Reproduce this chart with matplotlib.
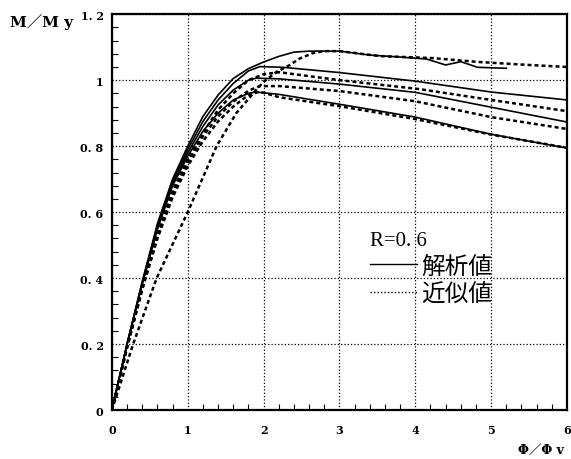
import numpy as np
import matplotlib
matplotlib.use('Agg')
import matplotlib.pyplot as plt
from matplotlib.ticker import MultipleLocator
from matplotlib.lines import Line2D

# analytical curves (solid)
s1_x = [0, 0.2, 0.4, 0.6, 0.8, 1.0, 1.2, 1.4, 1.6, 1.8, 2.0, 2.2, 2.4, 2.6, 3.0, 3.4, 3.8, 4.15, 4.4, 4.6, 4.82, 5.2]
s1_y = [0, 0.2, 0.39, 0.565, 0.70, 0.80, 0.89, 0.955, 1.005, 1.035, 1.055, 1.072, 1.085, 1.088, 1.088, 1.076, 1.07, 1.064, 1.046, 1.056, 1.039, 1.036]
s2_x = [0, 0.2, 0.4, 0.6, 0.8, 1.0, 1.2, 1.4, 1.6, 1.8, 1.95, 2.25, 3.0, 4.0, 5.0, 6.0]
s2_y = [0, 0.2, 0.387, 0.557, 0.692, 0.79, 0.875, 0.94, 0.99, 1.028, 1.041, 1.039, 1.023, 0.997, 0.964, 0.94]
s3_x = [0, 0.2, 0.4, 0.6, 0.8, 1.0, 1.2, 1.4, 1.6, 1.8, 1.9, 2.2, 3.0, 4.0, 5.0, 6.0]
s3_y = [0, 0.2, 0.384, 0.552, 0.686, 0.78, 0.86, 0.925, 0.97, 1.0, 1.006, 1.004, 0.988, 0.963, 0.918, 0.873]
s4_x = [0, 0.2, 0.4, 0.6, 0.8, 1.0, 1.2, 1.4, 1.6, 1.8, 1.9, 2.2, 3.0, 4.0, 5.0, 6.0]
s4_y = [0, 0.2, 0.382, 0.548, 0.68, 0.77, 0.845, 0.9, 0.94, 0.96, 0.964, 0.957, 0.927, 0.888, 0.836, 0.794]

# approximate curves (dashed)
d1_x = [0, 0.28, 0.59, 1.0, 1.38, 1.64, 1.9, 2.0, 2.17, 2.34, 2.47, 2.65, 2.8, 3.0, 3.53, 4.22, 4.84, 5.5, 6.0]
d1_y = [0, 0.2, 0.4, 0.6, 0.8, 0.9, 0.97, 0.995, 1.025, 1.045, 1.065, 1.082, 1.088, 1.088, 1.073, 1.067, 1.055, 1.046, 1.04]
d2_x = [0, 0.2, 0.4, 0.6, 0.8, 1.0, 1.2, 1.4, 1.6, 1.8, 2.0, 2.21, 3.0, 4.05, 5.0, 6.0]
d2_y = [0, 0.19, 0.37, 0.53, 0.665, 0.76, 0.84, 0.91, 0.96, 1.0, 1.018, 1.024, 1.0, 0.973, 0.94, 0.906]
d3_x = [0, 0.2, 0.4, 0.6, 0.8, 1.0, 1.2, 1.4, 1.6, 1.8, 1.95, 2.21, 3.0, 4.0, 5.0, 6.0]
d3_y = [0, 0.19, 0.368, 0.525, 0.655, 0.75, 0.83, 0.89, 0.935, 0.968, 0.982, 0.982, 0.967, 0.936, 0.888, 0.852]
d4_x = [0, 0.2, 0.4, 0.6, 0.8, 1.0, 1.2, 1.4, 1.6, 1.8, 1.95, 2.21, 3.0, 4.0, 5.0, 6.0]
d4_y = [0, 0.19, 0.365, 0.52, 0.645, 0.74, 0.815, 0.875, 0.92, 0.955, 0.965, 0.948, 0.921, 0.882, 0.835, 0.795]

xticks = [0, 1, 2, 3, 4, 5, 6]
yticks = [0, 0.2, 0.4, 0.6, 0.8, 1.0, 1.2]
ylabels = ['0', '0. 2', '0. 4', '0. 6', '0. 8', '1', '1. 2']

fig = plt.figure(figsize=(5.71, 4.6), dpi=100)
ax = fig.add_axes([0.196, 0.1065, 0.797, 0.8605])

solid = dict(color='black', lw=1.2, ls='-')
dash = dict(color='black', lw=1.8, ls=(0, (1.6, 1.2)))

ax.plot(s1_x, s1_y, **solid)
ax.plot(s2_x, s2_y, **solid)
ax.plot(s3_x, s3_y, **solid)
ax.plot(s4_x, s4_y, **solid)
ax.plot(d1_x, d1_y, **dash)
ax.plot(d2_x, d2_y, **dash)
ax.plot(d3_x, d3_y, **dash)
ax.plot(d4_x, d4_y, **dash)

ax.set_xlim(0, 6)
ax.set_ylim(0, 1.2)
ax.set_xticks(xticks)
ax.set_xticklabels([str(t) for t in xticks], fontfamily='DejaVu Serif', fontweight='bold', fontsize=8)
ax.set_yticks(yticks)
ax.set_yticklabels(ylabels, fontfamily='DejaVu Serif', fontweight='bold', fontsize=8)
ax.xaxis.set_minor_locator(MultipleLocator(0.2))
ax.yaxis.set_minor_locator(MultipleLocator(0.04))
ax.tick_params(which='both', direction='in', top=False, right=False)
ax.tick_params(axis='y', which='major', length=0, pad=6)
ax.tick_params(axis='x', which='major', length=0, pad=10)
ax.tick_params(which='minor', length=4, width=0.8)
ax.grid(True, which='major', color='black', ls=':', lw=0.9)
for sp in ax.spines.values():
    sp.set_linewidth(1.6)

fig.text(0.018, 0.952, 'M／M y', fontfamily=['DejaVu Serif', 'Noto Sans CJK JP'],
         fontweight='bold', fontsize=11, ha='left', va='center')
fig.text(0.988, 0.02, 'Φ／Φ v', fontfamily=['DejaVu Serif', 'Noto Sans CJK JP'],
         fontweight='bold', fontsize=9, ha='right', va='center')

hs = Line2D([], [], color='black', lw=1.0)
hd = Line2D([], [], color='black', lw=1.0, ls=(0, (1, 1.5)))
leg = ax.legend([hs, hd], ['解析値', '近似値'], title='R=0. 6', loc='upper left',
                bbox_to_anchor=(0.541, 0.482), frameon=False, handlelength=2.0,
                handletextpad=0.17, labelspacing=0.2, borderpad=0.0,
                prop={'family': 'Noto Sans CJK JP', 'size': 17}, alignment='left')
leg.get_title().set_fontfamily('Liberation Serif')
leg.get_title().set_fontsize(15)

fig.savefig('out.png', dpi=100)
